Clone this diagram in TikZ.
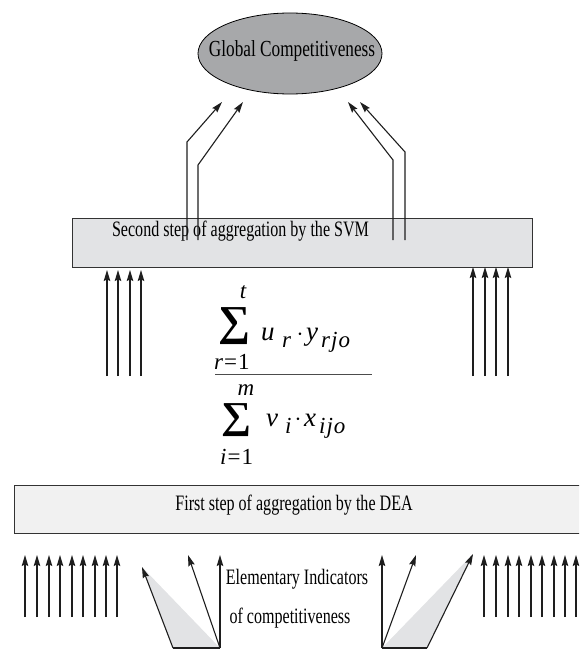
\documentclass[tikz,border=0pt]{standalone}
\usepackage{fontspec}
\usepackage{graphicx}
\setmainfont{Liberation Serif}
\newfontfamily\condfont[FakeStretch=0.73]{Liberation Serif}
\newfontfamily\globfont[FakeStretch=0.75]{Liberation Serif}
\usetikzlibrary{arrows.meta,shapes.geometric}
\definecolor{ellgray}{HTML}{A7A8AA}
\definecolor{svmgray}{HTML}{E2E3E5}
\definecolor{deagray}{HTML}{F1F1F1}
\definecolor{trigray}{HTML}{E2E3E5}
\definecolor{edgecol}{HTML}{333333}
\definecolor{linecol}{HTML}{1E1E1E}
\newcommand{\bigsumglyph}[2]{\resizebox*{#1}{#2}{\bfseries ∑}}
\begin{document}
\begin{tikzpicture}[x=1pt,y=-1pt,
  lbl/.style={font=\condfont\fontsize{22}{26}\selectfont, inner sep=0, anchor=base},
  arr/.style={line width=1.1pt, draw=linecol, -{Stealth[length=11pt,width=6.5pt,inset=1.5pt]}},
  plainline/.style={line width=1.1pt, draw=linecol},
  boxstyle/.style={draw=edgecol, line width=1pt, rectangle, inner sep=0, anchor=north west},
  fm/.style={font=\fontsize{27}{30}\selectfont\itshape, inner sep=0, anchor=base west},
  fs/.style={font=\fontsize{23}{26}\selectfont\itshape, inner sep=0, anchor=base west},
  dotnode/.style={inner sep=0, font=\fontsize{30}{30}\selectfont},
]
\useasboundingbox (0,0) rectangle (579,650);
\clip (0,0) rectangle (579,650);

% ellipse
\node[ellipse, draw=black, fill=ellgray, line width=0.8pt, minimum width=184pt, minimum height=81pt] (glob) at (290,53.5) {};
\node[inner sep=0, anchor=base, font=\globfont\fontsize{23}{26}\selectfont] (globt) at (292,57) {Global Competitiveness};

% second step box
\node[boxstyle, fill=svmgray, minimum width=460pt, minimum height=49pt] (svm) at (72,218) {};
\node[lbl] (svmt) at (240.5,236) {Second step of aggregation by the SVM};

% first step box
\node[boxstyle, fill=deagray, minimum width=570pt, minimum height=48pt] (dea) at (14,485) {};
\node[lbl] (deat) at (294,510) {First step of aggregation by the DEA};

% arrows to ellipse
\coordinate (l1b) at (187,240); \coordinate (l1k) at (187,142); \coordinate (l1t) at (222,102);
\coordinate (l2b) at (198,240); \coordinate (l2k) at (198,165); \coordinate (l2t) at (243,102);
\coordinate (r1b) at (393,240); \coordinate (r1k) at (393,160); \coordinate (r1t) at (348,102);
\coordinate (r2b) at (405,240); \coordinate (r2k) at (405,152); \coordinate (r2t) at (360,102);
\draw[arr] (l1b) -- (l1k) -- (l1t);
\draw[arr] (l2b) -- (l2k) -- (l2t);
\draw[arr] (r1b) -- (r1k) -- (r1t);
\draw[arr] (r2b) -- (r2k) -- (r2t);

% arrows into SVM box
\foreach \x [count=\i] in {107,118,130,141}{
  \coordinate (sl\i b) at (\x,376); \coordinate (sl\i t) at (\x,270);
  \draw[arr] (sl\i b) -- (sl\i t);
}
\foreach \x [count=\i] in {473,485,496,508}{
  \coordinate (sr\i b) at (\x,376); \coordinate (sr\i t) at (\x,267);
  \draw[arr] (sr\i b) -- (sr\i t);
}

% fraction
\node[inner sep=0, anchor=south west] (sum1) at (218,345) {\bigsumglyph{32pt}{37pt}};
\node[fs, anchor=base] (t1) at (243,298) {t};
\node[fs] (r1) at (214,369) {r\hspace{1pt}\upshape=\hspace{1pt}1};
\node[fm] (u1) at (261,340) {u};
\node[fs] (ur) at (282,347) {r};
\node[dotnode] (d1) at (300,335) {$\cdot$};
\node[fm] (y1) at (306,340) {y};
\node[fs] (rjo) at (321,347) {r\hspace{1pt}j\hspace{1pt}o};
\coordinate (fl) at (215,374); \coordinate (fr) at (372,374);
\draw[line width=0.8pt, draw=black!70] (fl) -- (fr);
\node[inner sep=0, anchor=south west] (sum2) at (221,437) {\bigsumglyph{30pt}{33pt}};
\node[fs, anchor=base] (m2) at (246,395) {m};
\node[fs] (i2) at (220,464) {i\hspace{1pt}\upshape=\hspace{1pt}1};
\node[fm] (v2) at (266,426) {v};
\node[fs] (vi) at (285,433) {i};
\node[dotnode] (d2) at (298,420) {$\cdot$};
\node[fm] (x2) at (304,426) {x};
\node[fs] (ijo) at (319,433) {i\hspace{1pt}j\hspace{1pt}o};

% bottom straight arrows
\foreach \x [count=\i] in {25,37,49,60,72,83,95,106,117}{
  \coordinate (bl\i b) at (\x,617); \coordinate (bl\i t) at (\x,555);
  \draw[arr] (bl\i b) -- (bl\i t);
}
\foreach \x [count=\i] in {484,496,508,519,531,542,554,565,576}{
  \coordinate (br\i b) at (\x,617); \coordinate (br\i t) at (\x,555);
  \draw[arr] (br\i b) -- (br\i t);
}

% left fan
\coordinate (lfbl) at (173,648); \coordinate (lfbr) at (220,648);
\coordinate (lft) at (142,567); \coordinate (lfm) at (188,555); \coordinate (lfv) at (220,555);
\fill[trigray] (lft) -- (lfbl) -- (lfbr) -- cycle;
\draw[plainline] (lfbl) -- (lfbr);
\draw[arr] (lfbl) -- (lft);
\draw[arr] (lfbr) -- (lfm);
\draw[arr] (lfbr) -- (lfv);

% right fan
\coordinate (rfbl) at (382,648); \coordinate (rfbr) at (427,648);
\coordinate (rft) at (473,554); \coordinate (rfv) at (382,555); \coordinate (rfm) at (416,555);
\fill[trigray] (rfbl) -- (rfbr) -- (rft) -- cycle;
\draw[plainline] (rfbl) -- (rfbr);
\draw[arr] (rfbr) -- (rft);
\draw[arr] (rfbl) -- (rfv);
\draw[arr] (rfbl) -- (rfm);

% labels
\node[lbl] (elem1) at (297,584) {Elementary Indicators};
\node[lbl] (elem2) at (290,623) {of competitiveness};
\end{tikzpicture}
\end{document}
